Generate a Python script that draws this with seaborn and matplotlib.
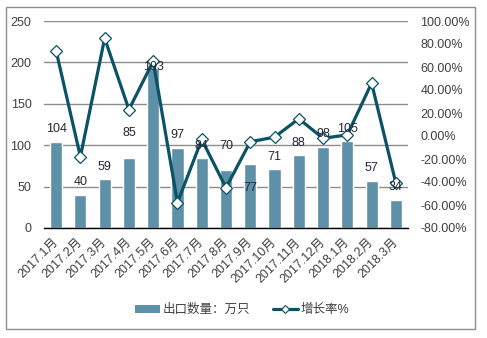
import matplotlib
matplotlib.use("Agg")
import matplotlib.pyplot as plt
from matplotlib.patches import Rectangle, Patch
from matplotlib.lines import Line2D
from matplotlib.ticker import FuncFormatter, MultipleLocator
import seaborn as sns
import pandas as pd

months = ["2017.1月", "2017.2月", "2017.3月", "2017.4月", "2017.5月", "2017.6月",
          "2017.7月", "2017.8月", "2017.9月", "2017.10月", "2017.11月", "2017.12月",
          "2018.1月", "2018.2月", "2018.3月"]
export_qty = [104, 40, 59, 85, 193, 97, 84, 70, 77, 71, 88, 98, 105, 57, 34]
growth_pct = [74, -18, 85, 23, 65, -58, -3, -45, -5, -1, 15, -2, 1, 46, -41]

bar_label = "出口数量：万只"
line_label = "增长率%"

# vertical offset (points) of each value label from its bar top
label_offset = {3: 18, 4: 1, 7: 17, 8: -17}
default_offset = 9

BAR_COLOR = "#5E91A8"
LINE_COLOR = "#0A5366"
GRID_COLOR = "#8C8C8C"
TEXT_COLOR = "#404040"

sns.set_theme(style="white")
plt.rcParams["font.family"] = ["Liberation Sans", "Noto Sans CJK SC", "DejaVu Sans"]
plt.rcParams["font.size"] = 9

df = pd.DataFrame({"month": months, "qty": export_qty, "growth": growth_pct})

fig = plt.figure(figsize=(4.87, 3.38), dpi=100)
fig.patch.set_facecolor("white")
ax = fig.add_axes([44 / 487, 1 - 228 / 338, (408 - 44) / 487, (228 - 21) / 338])

sns.barplot(data=df, x="month", y="qty", color=BAR_COLOR, width=0.5,
            saturation=1, ax=ax, zorder=2)
ax.set_ylim(0, 250)
ax.yaxis.set_major_locator(MultipleLocator(50))
ax.grid(axis="y", color=GRID_COLOR, linewidth=1, zorder=0)
ax.set_axisbelow(True)
ax.set_xlabel("")
ax.set_ylabel("")
for side in ["left", "right", "top"]:
    ax.spines[side].set_visible(False)
ax.spines["bottom"].set_color("black")
ax.spines["bottom"].set_linewidth(1)
ax.tick_params(axis="y", length=0, pad=9, labelsize=9, labelcolor=TEXT_COLOR)
ax.tick_params(axis="x", length=0, pad=9, labelsize=9, labelcolor=TEXT_COLOR)
for lbl in ax.get_xticklabels():
    lbl.set_rotation(45)
    lbl.set_ha("right")
    lbl.set_va("center")
    lbl.set_rotation_mode("anchor")

ax2 = ax.twinx()
sns.pointplot(data=df, x="month", y="growth", ax=ax2, color=LINE_COLOR,
              markers="D", linestyles="-", errorbar=None,
              linewidth=2.3, markersize=6.5, markerfacecolor="white",
              markeredgecolor=LINE_COLOR, markeredgewidth=0.9, zorder=4)
ax2.set_ylim(-80, 100)
ax2.yaxis.set_major_locator(MultipleLocator(20))
ax2.yaxis.set_major_formatter(FuncFormatter(lambda v, p: f"{v:.2f}%"))
ax2.set_ylabel("")
ax2.set_xlabel("")
ax2.grid(False)
for side in ["left", "right", "top", "bottom"]:
    ax2.spines[side].set_visible(False)
ax2.tick_params(axis="y", length=0, pad=9, labelsize=9, labelcolor=TEXT_COLOR)
ax.set_xlim(-0.5, len(months) - 0.5)
ax2.set_xlim(-0.5, len(months) - 0.5)

# value labels above the bars, drawn on top of the growth line
for i, v in enumerate(export_qty):
    off = label_offset.get(i, default_offset)
    ax2.annotate(str(v), xy=(i, v), xycoords=ax.transData,
                 xytext=(0, off), textcoords="offset points",
                 ha="center", va="center", fontsize=9, color="#262638",
                 zorder=6, annotation_clip=False)

handles = [
    Patch(facecolor=BAR_COLOR, edgecolor="none"),
    Line2D([], [], color=LINE_COLOR, linewidth=2.3, marker="D", markersize=4.5,
           markerfacecolor="white", markeredgecolor=LINE_COLOR, markeredgewidth=0.8),
]
fig.legend(handles, [bar_label, line_label], loc="center",
           bbox_to_anchor=(242 / 487, 1 - 310 / 338), ncol=2, frameon=False,
           fontsize=9, handlelength=2.0, handleheight=0.6, handletextpad=0.2,
           columnspacing=1.8, labelcolor=TEXT_COLOR)

fig.patches.append(Rectangle((6 / 487, 1 - 329 / 338), 469 / 487, 322 / 338,
                             transform=fig.transFigure, fill=False,
                             edgecolor="#8C8C8C", linewidth=1))

fig.savefig("out.png", dpi=100, facecolor="white")
